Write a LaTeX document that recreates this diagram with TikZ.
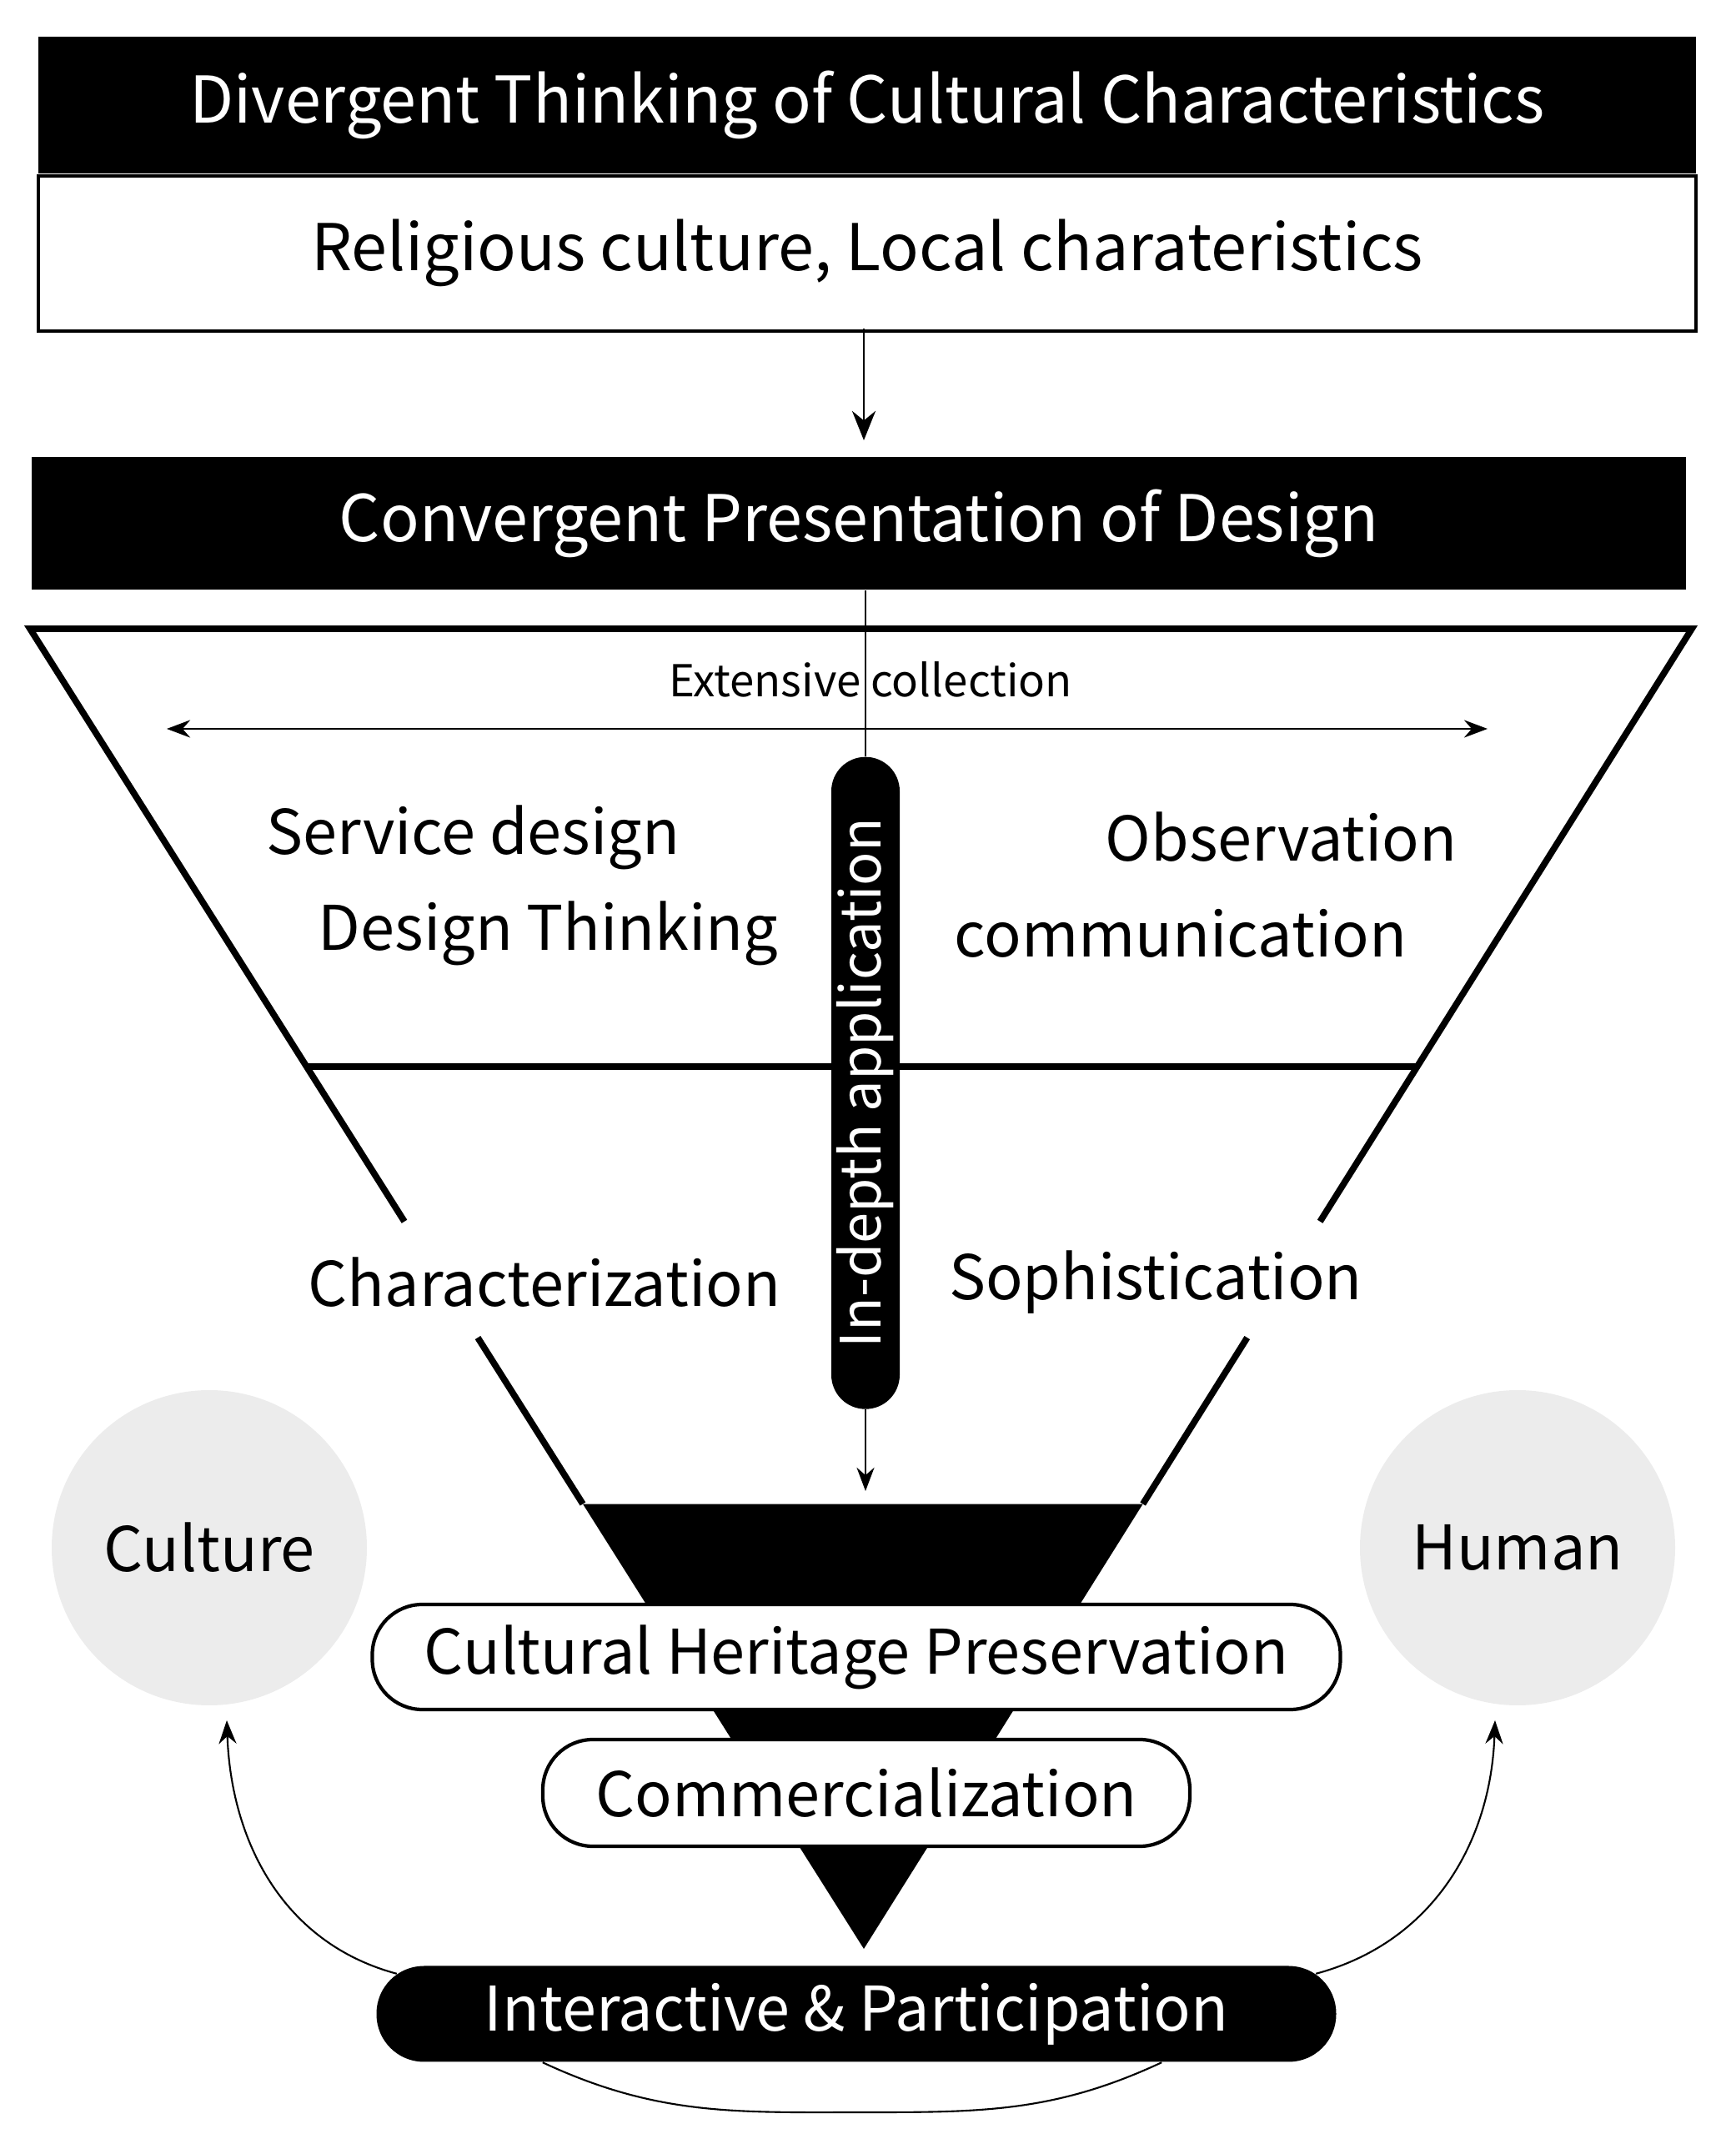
\documentclass[tikz,border=0pt]{standalone}
\usepackage{fontspec}
\setmainfont{Noto Sans CJK KR}
\usetikzlibrary{calc,arrows.meta}
\begin{document}
\begin{tikzpicture}[
  big/.style={font=\fontsize{22}{26}\selectfont},
  mid/.style={font=\fontsize{21}{25}\selectfont},
  sm/.style={font=\fontsize{15}{18}\selectfont},
  thinarr/.style={-{Stealth[length=8pt,width=6pt]}, line width=0.6pt},
  side/.style={line width=2.2pt},
  circ/.style={circle, fill=gray!15, minimum size=3.78cm, inner sep=0pt}
]
\useasboundingbox (0,0) rectangle (20.82,25.83);
% top boxes
\node[fill=black, minimum width=19.88cm, minimum height=1.64cm, inner sep=0pt, text=white, big] (t1) at (10.40,24.57) {Divergent Thinking of Cultural Characteristics};
\node[draw=black, line width=1.2pt, minimum width=19.88cm, minimum height=1.86cm, inner sep=0pt, anchor=north, big] (t2) at (t1.south) {Religious culture, Local charateristics};
\coordinate (a1) at (10.36,20.55);
\draw[-{Stealth[length=10pt,width=8pt]}, line width=0.8pt] (10.36,21.89) -- (a1);
\node[fill=black, minimum width=19.84cm, minimum height=1.59cm, inner sep=0pt, text=white, big] (c1) at (10.30,19.55) {Convergent Presentation of Design};
% funnel
\coordinate (TL) at (0.36,18.29);
\coordinate (TR) at (20.29,18.29);
\coordinate (A) at (10.36,2.46);
\draw[side, line join=miter] ($(TL)!0.449!(A)$) -- (TL) -- (TR) -- ($(TR)!0.449!(A)$);
\draw[side] ($(TL)!0.537!(A)$) -- ($(TL)!0.663!(A)$);
\draw[side] ($(TR)!0.537!(A)$) -- ($(TR)!0.663!(A)$);
\draw[side] ($(TL)!0.3317!(A)$) -- ($(TR)!0.3317!(A)$);
\fill ($(TL)!0.663!(A)$) -- ($(TR)!0.663!(A)$) -- (A) -- cycle;
% extensive collection
\coordinate (eL) at (2.0,17.09);
\coordinate (eR) at (17.84,17.09);
\draw[{Stealth[length=8pt,width=6pt]}-{Stealth[length=8pt,width=6pt]}, line width=0.6pt] (eL) -- (eR);
\node[sm] (ext) at (10.44,17.68) {Extensive collection};
% in-depth pill
\node[fill=black, rounded corners=0.41cm, minimum width=0.82cm, minimum height=7.82cm, inner sep=0pt, anchor=north] (pill) at (10.38,16.76) {};
\node[rotate=90, text=white, font=\fontsize{19}{22}\selectfont] (pt) at (pill.center) {In-depth application};
\draw[line width=0.6pt] (c1.south -| pill.north) -- (pill.north);
\coordinate (a2) at (10.38,7.95);
\draw[thinarr] (pill.south) -- (a2);
% labels
\node[mid, anchor=west] (sd) at (3.07,15.79) {Service design};
\node[mid, anchor=east] (dt) at (9.46,14.64) {Design Thinking};
\node[mid, anchor=east] (ob) at (17.6,15.79) {Observation};
\node[mid, anchor=west] (co) at (11.32,14.64) {communication};
\node[mid] (ch) at (6.53,10.45) {Characterization};
\node[mid] (so) at (13.86,10.45) {Sophistication};
% circles
\node[circ, mid] (cu) at (2.51,7.27) {Culture};
\node[circ, mid] (hu) at (18.2,7.27) {Human};
% boxes
\node[draw=black, fill=white, line width=1.2pt, rounded corners=0.6cm, minimum width=11.61cm, minimum height=1.26cm, inner sep=0pt, mid] (chp) at (10.27,5.96) {Cultural Heritage Preservation};
\node[draw=black, fill=white, line width=1.2pt, rounded corners=0.6cm, minimum width=7.76cm, minimum height=1.28cm, inner sep=0pt, mid] (com) at (10.39,4.33) {Commercialization};
\node[fill=black, rounded corners=0.57cm, minimum width=11.51cm, minimum height=1.15cm, inner sep=0pt, text=white, mid] (ip) at (10.27,1.68) {Interactive \& Participation};
% curves
\coordinate (cuT) at (2.72,5.20);
\coordinate (huT) at (17.93,5.20);
\draw[thinarr] ([xshift=0.25cm,yshift=-0.1cm]ip.north west) to[out=165, in=-88] (cuT);
\draw[thinarr] ([xshift=-0.25cm,yshift=-0.1cm]ip.north east) to[out=15, in=-92] (huT);
\draw[line width=0.6pt] ([xshift=2cm]ip.south west) to[out=-25, in=180] (10.36,0.5) to[out=0, in=-155] ([xshift=-2.1cm]ip.south east);
\end{tikzpicture}
\end{document}
